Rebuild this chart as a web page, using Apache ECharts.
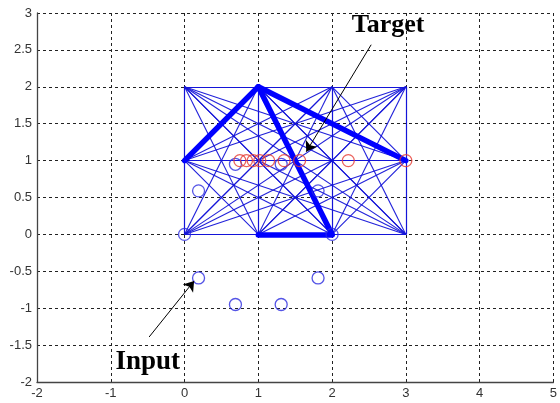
<!DOCTYPE html>
<html><head><meta charset="utf-8">
<script src="https://cdn.jsdelivr.net/npm/echarts@6/dist/echarts.min.js"></script>
<style>html,body{margin:0;padding:0;background:#fff}#c{width:560px;height:403px}</style>
</head><body><div id="c"></div><script>
// Lattice of network nodes (every pair is joined by a thin edge)
const nodeXs = [0, 1, 2, 3];
const nodeYs = [0, 1, 2];
// Edges of the selected path (drawn thick)
const pathEdges = [
  [[0, 1], [1, 2]],
  [[1, 2], [3, 1]],
  [[1, 2], [2, 0]],
  [[1, 0], [2, 0]]
];
// Input samples (blue circles)
const inputPoints = [
  [0, 0], [0.19, 0.59], [0.69, 0.95], [1.31, 0.95], [1.81, 0.59],
  [2, 0], [1.81, -0.59], [1.31, -0.95], [0.69, -0.95], [0.19, -0.59]
];
// Target samples (red circles) on the line y = 1
const targetXs = [0.75, 0.84, 0.93, 1.02, 1.14, 1.35, 1.56, 2.22, 3.0];
const targetY = 1;
// Annotations: text anchors and arrows in data units
const notes = [
  { text: 'Target', at: [2.76, 2.84], size: 26, from: [2.53, 2.57], to: [1.65, 1.12] },
  { text: 'Input', at: [-0.5, -1.73], size: 27, from: [-0.48, -1.39], to: [0.13, -0.63] }
];

const nodes = [];
nodeXs.forEach(x => nodeYs.forEach(y => nodes.push([x, y])));
const edges = [];
for (let i = 0; i < nodes.length; i++)
  for (let j = i + 1; j < nodes.length; j++)
    edges.push({ coords: [nodes[i], nodes[j]] });

const chart = echarts.init(document.getElementById('c'), null, { renderer: 'canvas' });
const axisText = { color: '#333', fontFamily: 'Liberation Sans, Arial, sans-serif', fontSize: 13 };
const dashed = { show: true, lineStyle: { color: '#222', width: 1, type: [3, 3] } };

chart.setOption({
  animation: false,
  backgroundColor: '#fff',
  grid: { left: 37, right: 4, top: 13, bottom: 21, containLabel: false },
  xAxis: {
    type: 'value', min: -2, max: 5, interval: 1,
    axisLine: { show: true, onZero: false, lineStyle: { color: '#444', width: 1.3 } },
    axisTick: { show: false },
    axisLabel: Object.assign({ margin: 5 }, axisText),
    splitLine: dashed
  },
  yAxis: {
    type: 'value', min: -2, max: 3, interval: 0.5,
    axisLine: { show: true, onZero: false, lineStyle: { color: '#444', width: 1.3 } },
    axisTick: { show: false },
    axisLabel: Object.assign({ margin: 5 }, axisText),
    splitLine: dashed
  },
  series: [
    {
      type: 'lines', coordinateSystem: 'cartesian2d', silent: true, z: 2,
      lineStyle: { color: '#1414d8', width: 1.1, opacity: 0.95 },
      data: edges
    },
    {
      type: 'lines', coordinateSystem: 'cartesian2d', silent: true, z: 3,
      lineStyle: { color: '#0000ff', width: 5.5, opacity: 1, cap: 'round' },
      data: pathEdges.map(e => ({ coords: e }))
    },
    {
      type: 'scatter', z: 4, symbol: 'circle', symbolSize: 12,
      itemStyle: { color: 'rgba(0,0,0,0)', borderColor: '#2b2be0', borderWidth: 1.3 },
      data: inputPoints
    },
    {
      type: 'scatter', z: 5, symbol: 'circle', symbolSize: 12,
      itemStyle: { color: 'rgba(0,0,0,0)', borderColor: '#e63a32', borderWidth: 1.3 },
      data: targetXs.map(x => [x, targetY])
    },
    {
      // Annotation arrows
      type: 'lines', coordinateSystem: 'cartesian2d', silent: true, z: 6,
      symbol: ['none', 'arrow'], symbolSize: 10,
      lineStyle: { color: '#000', width: 1, opacity: 1 },
      itemStyle: { color: '#000' },
      data: notes.map(n => ({ coords: [n.from, n.to] }))
    }
  ]
});

chart.setOption({
  graphic: notes.map(n => {
    const p = chart.convertToPixel({ gridIndex: 0 }, n.at);
    return {
      type: 'text', x: p[0], y: p[1], z: 10,
      style: {
        text: n.text, fill: '#000', align: 'center', verticalAlign: 'middle',
        font: 'bold ' + n.size + 'px "Liberation Serif", "Times New Roman", serif'
      }
    };
  })
});
</script></body></html>
